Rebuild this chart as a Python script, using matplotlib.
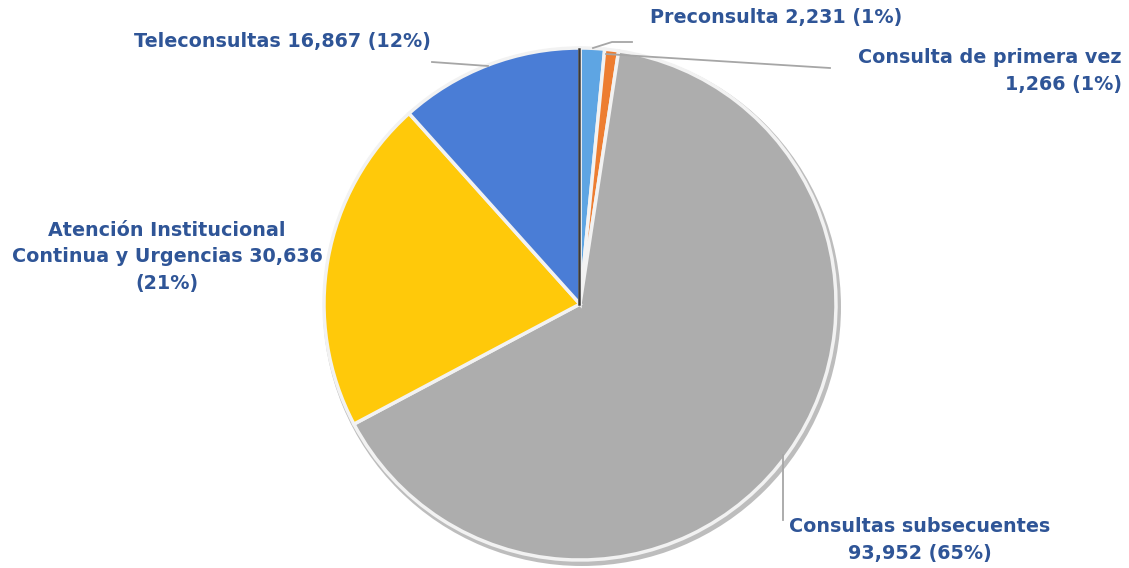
import matplotlib.pyplot as plt

# Datos
categorias = ['Preconsulta', 'Consulta de primera vez', 'Consultas subsecuentes',
              'Atención Institucional Continua y Urgencias', 'Teleconsultas']
valores = [2231, 1266, 93952, 30636, 16867]
porcentajes = ['1%', '1%', '65%', '21%', '12%']
colores = ['#5ea5e3', '#ed7d31', '#adadad', '#ffc90a', '#4a7dd6']
etiquetas = [
    'Preconsulta 2,231 (1%)',
    'Consulta de primera vez\n1,266 (1%)',
    'Consultas subsecuentes\n93,952 (65%)',
    'Atención Institucional\nContinua y Urgencias 30,636\n(21%)',
    'Teleconsultas 16,867 (12%)',
]

W, H = 1129, 568
fig = plt.figure(figsize=(W / 100, H / 100), dpi=100)
ax = fig.add_axes([0, 0, 1, 1])
ax.set_xlim(0, W)
ax.set_ylim(0, H)
ax.set_aspect('equal')
ax.axis('off')

cx, cy, r = 580, H - 304, 256

# sombra suave
ax.pie([1], radius=r + 3, center=(cx + 2, cy - 3), colors=['#bdbdbd'],
       wedgeprops=dict(linewidth=0))
wedges, _ = ax.pie(valores, radius=r, center=(cx, cy), colors=colores,
                   startangle=90, counterclock=False,
                   wedgeprops=dict(edgecolor='#f2f2f2', linewidth=2.5))
# borde oscuro del inicio
ax.plot([cx - 1.5, cx - 1.5], [cy, cy + r - 1], color='#3a3a3a', linewidth=1.8)
ax.set_xlim(0, W)
ax.set_ylim(0, H)

color_txt = '#2f5597'
fuente = dict(color=color_txt, fontsize=13.8, fontweight='bold', family='DejaVu Sans')
linea = dict(color='#a6a6a6', linewidth=1.3)

# Preconsulta
ax.plot([593, 612, 632], [H - 48, H - 42, H - 42], **linea)
ax.text(650, H - 18, etiquetas[0], ha='left', va='center', **fuente)
# Consulta de primera vez
ax.plot([606, 830], [H - 54, H - 68], **linea)
ax.text(1122, H - 71, etiquetas[1], ha='right', va='center', linespacing=1.55, **fuente)
# Consultas subsecuentes
ax.plot([783, 783], [H - 455, H - 520], **linea)
ax.text(920, H - 540, etiquetas[2], ha='center', va='center', linespacing=1.55, **fuente)
# Atención
ax.text(167, H - 257, etiquetas[3], ha='center', va='center', linespacing=1.5, **fuente)
# Teleconsultas
ax.plot([432, 488], [H - 62, H - 66], **linea)
ax.text(282, H - 42, etiquetas[4], ha='center', va='center', **fuente)

fig.savefig('out.png', dpi=100)
